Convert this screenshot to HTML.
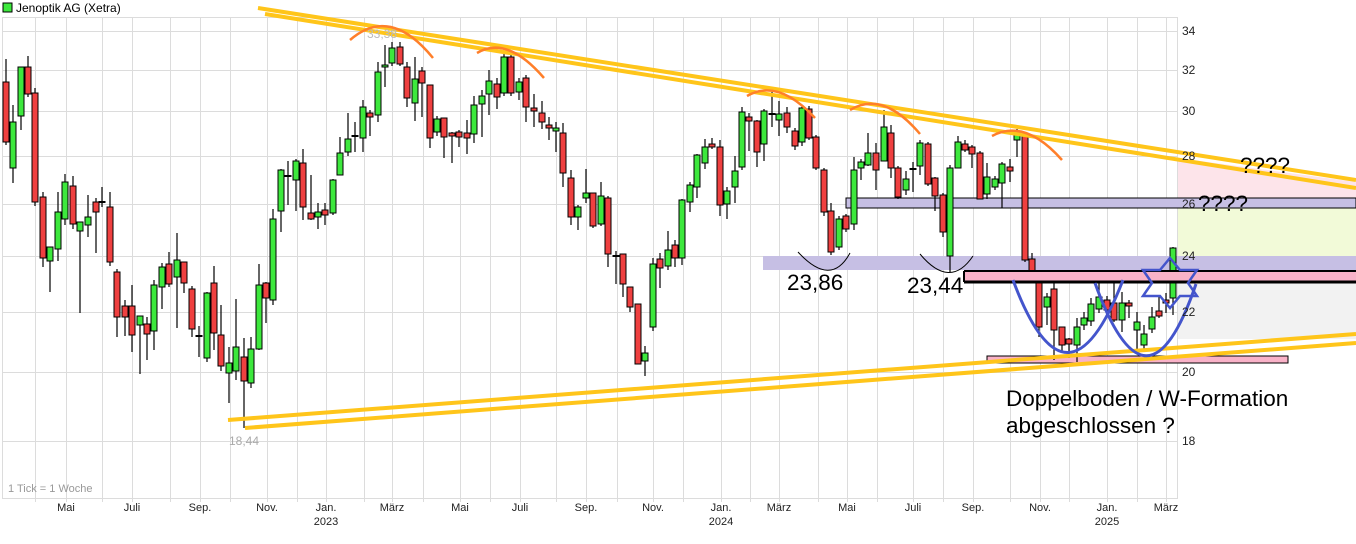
<!DOCTYPE html>
<html><head><meta charset="utf-8"><style>
html,body{margin:0;padding:0;background:#fff;}
svg{display:block;font-family:"Liberation Sans",Arial,sans-serif;}
</style></head><body>
<svg id="s" width="1356" height="544" xmlns="http://www.w3.org/2000/svg">
<rect width="1356" height="544" fill="#fff"/>
<polygon points="1178,158 1356,182 1356,204 1178,204" fill="#fde4ea"/>
<rect x="1178" y="208" width="178" height="48" fill="#f2fad8"/>
<rect x="1178" y="283" width="178" height="56" fill="#f2f2f2"/>
<g id="grid" stroke="#dcdcdc" stroke-width="1"></g>
<rect x="2.5" y="17.5" width="1175" height="481" fill="none" stroke="#dcdcdc"/>
<rect x="763" y="256" width="593" height="14" fill="#c6bfe4"/>
<rect x="846" y="198" width="510" height="10" fill="#c6bfe4" stroke="#000" stroke-width="1"/>
<rect x="987" y="356" width="301" height="7" fill="#f9b2c8" stroke="#000" stroke-width="1"/>
<g id="c"></g>
<rect x="964" y="271" width="392" height="10" fill="#f9b2c8"/>
<line x1="964" y1="271" x2="1356" y2="271" stroke="#000" stroke-width="2"/>
<line x1="964" y1="282" x2="1356" y2="282" stroke="#000" stroke-width="3"/>
<line x1="964" y1="271" x2="964" y2="282" stroke="#000" stroke-width="2"/>
<g stroke="#ffc51a" stroke-width="4" fill="none">
<line x1="258" y1="8" x2="1356" y2="180"/>
<line x1="265" y1="14" x2="1356" y2="188"/>
<line x1="228" y1="420" x2="1356" y2="334"/>
<line x1="245" y1="428" x2="1356" y2="343"/>
</g>
<g stroke="#ff7f2a" stroke-width="2.5" fill="none">
<path d="M350,40 Q390,5 433,58"/>
<path d="M477,53 Q507,35 544,78"/>
<path d="M747,96 Q778,78 815,118"/>
<path d="M850,110 Q883,90 920,134"/>
<path d="M992,136 Q1025,118 1062,160"/>
</g>
<g stroke="#000" stroke-width="1" fill="none">
<path d="M798,252 Q831,288 850,253"/>
<path d="M920,254 Q950,290 973,256"/>
</g>
<g stroke="#4455cc" stroke-width="3" fill="none">
<path d="M1013,280 Q1067,425 1123,280"/>
<path d="M1095,283 Q1147,428 1196,284"/>
<polygon points="1170,258 1180,270 1197,270 1188,283 1197,296 1180,296 1170,308 1160,296 1143,296 1152,283 1143,270 1160,270" stroke-width="2.5"/>
</g>
<g fill="#000">
<rect x="3" y="3" width="9" height="9" fill="#3de83d" stroke="#000" stroke-width="1"/>
<text x="16" y="12" font-size="12">Jenoptik AG (Xetra)</text>
<text x="787" y="290" font-size="22.5">23,86</text>
<text x="907" y="293" font-size="22.5">23,44</text>
<text x="1240" y="173" font-size="22.5">????</text>
<text x="1198" y="211" font-size="22.5">????</text>
<text x="1006" y="406" font-size="22.5">Doppelboden / W-Formation</text>
<text x="1006" y="433" font-size="22.5">abgeschlossen ?</text>
<text x="229" y="445" font-size="12" fill="#aaa">18,44</text>
<text x="367" y="38" font-size="12" fill="#bbb">33,38</text>
<text x="8" y="492" font-size="11" fill="#999">1 Tick = 1 Woche</text>
</g>
<g id="yl" font-size="12" fill="#222"></g>
<g id="xl" font-size="11" fill="#222" text-anchor="middle"></g>
</svg>
<script>
var NS="http://www.w3.org/2000/svg";
function el(p,n,a,t){var e=document.createElementNS(NS,n);for(var k in a)e.setAttribute(k,a[k]);if(t)e.textContent=t;p.appendChild(e);return e;}
var g=document.getElementById('grid');
var vx=[35,66,102,132,170,200,230,267,297,326,364,392,423,460,490,520,556,586,617,653,683,721,750,779,818,847,877,913,943,973,1010,1040,1069,1107,1137,1166];
vx.forEach(function(x){el(g,'line',{x1:x+.5,y1:17,x2:x+.5,y2:502});});
var hy=[31,70,111,156,204,256,312,372,441];
var lab=[34,32,30,28,26,24,22,20,18];
var yl=document.getElementById('yl');
hy.forEach(function(y,i){el(g,'line',{x1:2,y1:y+.5,x2:1178,y2:y+.5});el(yl,'text',{x:1182,y:y+4},lab[i]);});
var xl=document.getElementById('xl');
[[66,'Mai'],[132,'Juli'],[200,'Sep.'],[267,'Nov.'],[326,'Jan.','2023'],[392,'März'],[460,'Mai'],[520,'Juli'],[586,'Sep.'],[653,'Nov.'],[721,'Jan.','2024'],[779,'März'],[847,'Mai'],[913,'Juli'],[973,'Sep.'],[1040,'Nov.'],[1107,'Jan.','2025'],[1166,'März']].forEach(function(a){el(xl,'text',{x:a[0],y:511},a[1]);if(a[2])el(xl,'text',{x:a[0],y:525},a[2]);});
var D=[
[6,82,142,59,145],[13,168,122,105,183],[21,116,67,67,130],[28,67,94,56,97],[35,93,202,88,206],[43,197,258,192,267],[50,261,247,247,292],[58,249,212,192,261],[65,219,182,174,225],[73,186,224,176,229],[80,231,222,222,313],[88,225,217,195,237],[96,202,212,198,253],[102,203,202,187,207],[110,207,262,192,266],[117,272,317,269,337],[125,306,317,300,336],[132,306,335,285,352],[140,325,316,316,374],[147,324,334,317,360],[154,331,285,280,350],[162,287,267,263,309],[169,264,284,252,287],[177,277,260,233,328],[184,262,283,262,293],[192,289,329,286,337],[199,336,336.5,326,357],[207,358,293,292,362],[214,283,333,266,350],[221,335,366,305,371],[229,373,363,347,403],[236,371,347,299,380],[244,357,381,338,428],[251,383,349,337,388],[259,349,285,264,350],[266,283,298,282,323],[273,300,219,209,305],[281,211,170,169,232],[288,176,176.5,161,205],[296,180,161,159,211],[303,163,207,149,220],[311,213,219,175,220],[318,217,212,203,229],[325,210,215,203,225],[333,213,180,179,215],[340,175,153,137,175],[348,152,139,113,156],[355,136,136.5,122,152],[363,138,107,100,152],[370,113,117,110,136],[378,115,72,62,122],[385,67,65,45,87],[392,63,48,42,66],[400,47,64,42,66],
[407,67,98,62,107],[415,103,79,57,121],[422,71,83,67,117],[430,85,138,85,148],[437,132,119,116,136],[444,118,137,118,158],[452,133,136,132,163],[459,132,137,130,147],[467,133,138,120,154],[474,134,105,96,143],[482,104,96,90,137],[489,94,81,70,115],[497,84,97,78,109],[504,93,57,52,96],[511,57,93,52,96],[519,92,82,78,100],[526,78,107,75,122],[534,108,111,94,127],[542,113,122,101,129],[549,125,128,117,140],[556,131,128,122,152],[563,133,173,123,187],[571,178,217,170,225],[578,217,207,205,230],[586,198,193,169,203],[593,193,226,193,228],[601,224,196,182,226],[608,198,254,196,267],[616,256,256.5,251,284],[623,254,284,254,297],[630,287,307,287,312],[638,304,364,304,364],[645,361,353,346,376],[653,327,264,258,331],[660,259,268,253,288],[668,266,250,231,270],[675,245,258,240,267],[682,258,200,199,265],[690,202,185,182,212],[697,187,155,154,198],[705,163,147,139,169],[712,144,147,138,149],[720,147,205,140,216],[727,204,191,187,219],[735,187,171,156,203],[742,167,112,107,170],[749,117,121,113,151],[757,121,152,120,167],[764,144,111,109,161],[772,114,114.5,92,127],[779,120,114,101,136],[787,113,127,107,133],
[795,131,146,128,150],[802,142,108,105,146],[809,109,138,106,140],[816,137,168,135,170],[824,170,212,168,216],[831,211,252,203,255],[839,247,219,216,250],[846,216,229,214,232],[854,224,170,157,230],[861,168,162,159,180],[868,165,153,133,166],[876,153,170,143,190],[884,161,127,110,161],[891,133,168,125,178],[898,168,197,166,199],[906,190,179,171,195],[913,169,169.5,162,192],[920,166,143,140,175],[928,144,184,142,186],[935,178,196,177,211],[943,195,232,193,237],[950,256,168,165,272],[958,168,142,136,168],[965,144,150,140,152],[972,147,154,145,168],[980,153,199,151,199],[987,194,177,163,199],[995,187,179,176,190],[1002,183,164,162,208],[1010,167,171,159,182],[1017,140,135,129,157],[1025,134,260,132,262],[1032,259,277,253,280],[1039,273,327,273,337],[1047,307,297,293,325],[1054,289,330,278,360],[1062,327,345,327,353],[1069,339,344,338,358],[1077,345,327,318,362],[1084,325,318,312,330],[1091,321,304,298,326],[1099,309,297,282,313],[1107,300,310,296,313],[1114,303,320,273,322],[1122,320,303,292,332],[1129,303,306,300,318],[1137,330,322,312,350],[1144,345,334,325,350],[1152,329,317,307,333],[1159,311,316,295,318],[1166,300,303,293,313],[1173,298,248,247,315]];
var c=document.getElementById('c');
D.forEach(function(d){var x=d[0],o=d[1],cl=d[2],t=Math.min(o,cl),b=Math.max(o,cl);
el(c,'line',{x1:x,y1:d[3],x2:x,y2:d[4],stroke:'#000','stroke-width':1.2});
var col=cl<o?'#3de83d':'#ef4040';
if(b-t<1.5){el(c,'rect',{x:x-3.5,y:t-1,width:7,height:2,fill:'#000'});}
else el(c,'rect',{x:x-3,y:t,width:6,height:b-t,fill:col,stroke:'#000','stroke-width':1});});
</script>
</body></html>
